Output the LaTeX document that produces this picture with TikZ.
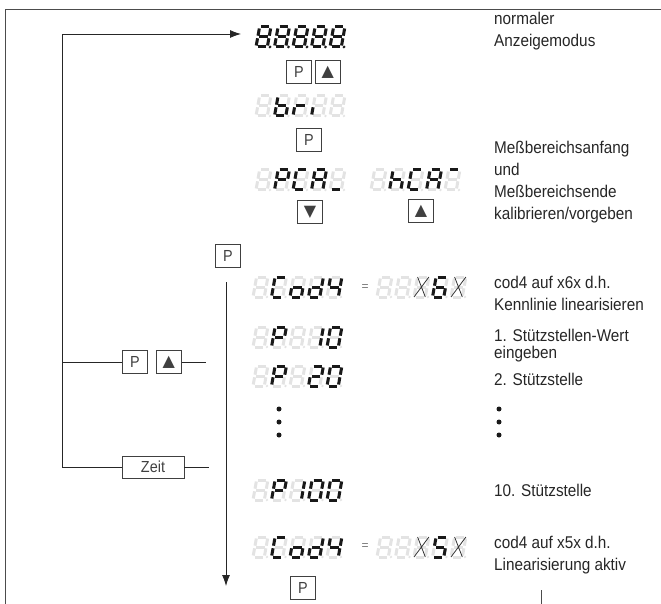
\documentclass[tikz,border=0pt]{standalone}
\usepackage{fontspec}
\setmainfont{Liberation Sans}
\newfontfamily\narrowfont[FakeStretch=0.9]{Liberation Sans}
\newfontfamily\symfont{DejaVu Sans}
\usetikzlibrary{positioning,arrows.meta}

% seven segment cells
\def\sega#1{\draw[#1] (1.5,20)--(9.8,20);}
\def\segb#1{\draw[#1] (11.3,18.5)--(11.3,11.3);}
\def\segc#1{\draw[#1] (11.3,8.7)--(11.3,1.5);}
\def\segd#1{\draw[#1] (1.5,0)--(9.8,0);}
\def\sege#1{\draw[#1] (0,1.5)--(0,8.7);}
\def\segf#1{\draw[#1] (0,11.3)--(0,18.5);}
\def\segg#1{\draw[#1] (1.5,10)--(9.8,10);}
\def\segdoa{\sega{segon}}
\def\segdob{\segb{segon}}
\def\segdoc{\segc{segon}}
\def\segdod{\segd{segon}}
\def\segdoe{\sege{segon}}
\def\segdof{\segf{segon}}
\def\segdog{\segg{segon}}
\def\segdop{\fill[black!90] (14,0) circle (1.5);}
\def\segdox{\draw[xmark] (0,0)--(11.3,20) (11.3,0)--(0,20);}
\expandafter\def\csname segdo-\endcsname{}
\def\segparse#1{\ifx#1\relax\else\csname segdo#1\endcsname\expandafter\segparse\fi}

\newcommand\segcell[3]{%
  \begin{scope}[shift={(#1,#2)}, x=1pt, y=1pt, xslant=0.18]
    \foreach \s in {a,b,c,d,e,f,g}{\csname seg\s\endcsname{segoff}}
    \fill[black!11] (14,0) circle (1.3);
    \segparse#3\relax
  \end{scope}}
\newcommand\segdisp[7]{%
  \segcell{#1}{#2}{#3}\segcell{#1+18.5}{#2}{#4}\segcell{#1+37}{#2}{#5}%
  \segcell{#1+55.5}{#2}{#6}\segcell{#1+74}{#2}{#7}}

\newcommand\notefont{\narrowfont\fontsize{17}{22}\selectfont}
\newcommand\tri[1]{{\symfont\fontsize{16}{16}\selectfont#1}}

\begin{document}
\begin{tikzpicture}[x=1pt, y=-1pt,
  segoff/.style={line width=3pt, draw=black!11},
  segon/.style={line width=3pt, draw=black!90},
  xmark/.style={line width=0.8pt, draw=black!80},
  key/.style={draw=black!75, line width=0.7pt, minimum width=25pt, minimum height=23pt,
    inner sep=0pt, font=\narrowfont\fontsize{16}{16}\selectfont, text=black!75},
  note/.style={anchor=west, align=left, inner sep=0pt, font=\notefont, text=black!85},
  eqsign/.style={inner sep=0pt, font=\fontsize{12}{12}\selectfont, text=black!55},
  dot/.style={circle, fill=black!90, inner sep=0pt, minimum size=5pt},
  line/.style={draw=black!85, line width=0.8pt},
  arr/.style={line, -{Latex[length=11pt,width=8pt]}},
  frame/.style={draw=black!70, line width=0.9pt}]

\useasboundingbox (0,0) rectangle (661,604);
\draw[frame] (5,604) -- (5,9) -- (661,9);
\draw[frame] (541,590) -- (541,604);

% keys
\node[key] (kp0) at (299,72) {P};
\node[key, right=3pt of kp0] (kup0) {\tri{▲}};
\node[key] (kp1) at (309,140) {P};
\node[key] (kdown) at (310,212) {\tri{▼}};
\node[key] (kup1) at (421,211) {\tri{▲}};
\node[key] (kp2) at (228,256) {P};
\node[key] (kp3) at (135,362) {P};
\node[key, right=8pt of kp3] (kup3) {\tri{▲}};
\node[key, minimum width=62pt, minimum height=22pt] (kzeit) at (153,467) {Zeit};
\node[key] (kp4) at (303,588) {P};

% displays
\segdisp{256}{47}{abcdefgp}{abcdefgp}{abcdefgp}{abcdefgp}{abcdefgp}
\segdisp{256}{116}{-}{cdefg}{eg}{e}{-}
\segdisp{256}{190}{-}{abefg}{adef}{abcefg}{d}
\segdisp{371}{190}{-}{cefg}{adef}{abcefg}{a}
\segdisp{253}{297}{-}{adef}{cdeg}{bcdeg}{bcfg}
\node[eqsign] (eq1) at (365,288) {=};
\segdisp{377}{297}{-}{-}{x}{acdefg}{x}
\segdisp{253}{347}{-}{abefg}{-}{bc}{abcdef}
\segdisp{253}{386}{-}{abefg}{-}{abdeg}{abcdef}
\segdisp{253}{500}{-}{abefg}{bc}{abcdef}{abcdef}
\segdisp{253}{557}{-}{adef}{cdeg}{bcdeg}{bcfg}
\node[eqsign] (eq2) at (365,547) {=};
\segdisp{377}{557}{-}{-}{x}{acdfg}{x}

\foreach \yy [count=\i] in {409,422,435} {
  \node[dot] (dl\i) at (279,\yy) {};
  \node[dot] (dr\i) at (499,\yy) {};
}

% notes
\node[note] (tnorm) at (494,31) {normaler\\Anzeigemodus};
\node[note] (tmess) at (494,182) {Meßbereichsanfang\\und\\Meßbereichsende\\kalibrieren/vorgeben};
\node[note] (tcod6) at (494,293) {cod4 auf x6x d.h.\\Kennlinie linearisieren};
\node[note] (tst1) at (494,346) {1. Stützstellen-Wert\\[-5pt]eingeben};
\node[note] (tst2) at (494,379) {2. Stützstelle};
\node[note] (tst10) at (494,490) {10. Stützstelle};
\node[note] (tcod5) at (494,555) {cod4 auf x5x d.h.\\Linearisierung aktiv};

% connectors
\coordinate (ltop) at (62,34);
\coordinate (tip) at (241,34);
\coordinate (vtop) at (226,282);
\coordinate (vbot) at (226,586);
\coordinate (stub1) at (206,362);
\coordinate (stub2) at (209,467);
\draw[arr] (kzeit.west) -| (ltop) -- (tip);
\draw[line] (kp3.west) -- (kp3.west -| ltop);
\draw[line] (kup3.east) -- (stub1);
\draw[line] (kzeit.east) -- (stub2);
\draw[arr] (vtop) -- (vbot);
\end{tikzpicture}
\end{document}
